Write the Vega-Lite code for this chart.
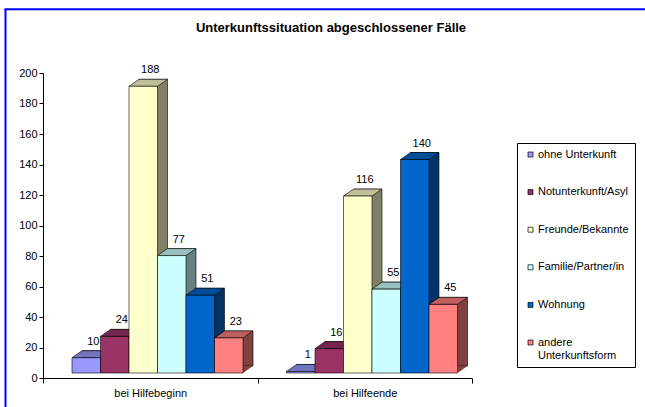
{
  "$schema": "https://vega.github.io/schema/vega-lite/v6.json",
  "width": 429,
  "height": 305,
  "autosize": {"type": "none"},
  "padding": {"left": 43, "top": 73, "right": 173, "bottom": 29},
  "background": "white",
  "config": {"view": {"stroke": null}, "font": "Liberation Sans"},
  "title": {"text": "Unterkunftssituation abgeschlossener Fälle", "fontSize": 13, "fontWeight": "bold", "font": "Liberation Sans", "color": "black", "anchor": "middle", "frame": "group", "offset": 0, "baseline": "alphabetic", "dy": 37, "dx": 73.5},
  "datasets": {
    "bars": [
      {"group": "bei Hilfebeginn", "cat": "ohne Unterkunft", "value": 10},
      {"group": "bei Hilfebeginn", "cat": "Notunterkunft/Asyl", "value": 24},
      {"group": "bei Hilfebeginn", "cat": "Freunde/Bekannte", "value": 188},
      {"group": "bei Hilfebeginn", "cat": "Familie/Partner/in", "value": 77},
      {"group": "bei Hilfebeginn", "cat": "Wohnung", "value": 51},
      {"group": "bei Hilfebeginn", "cat": "andere Unterkunftsform", "value": 23},
      {"group": "bei Hilfeende", "cat": "ohne Unterkunft", "value": 1},
      {"group": "bei Hilfeende", "cat": "Notunterkunft/Asyl", "value": 16},
      {"group": "bei Hilfeende", "cat": "Freunde/Bekannte", "value": 116},
      {"group": "bei Hilfeende", "cat": "Familie/Partner/in", "value": 55},
      {"group": "bei Hilfeende", "cat": "Wohnung", "value": 140},
      {"group": "bei Hilfeende", "cat": "andere Unterkunftsform", "value": 45}
    ],
    "groups": [{"group": "bei Hilfebeginn"}, {"group": "bei Hilfeende"}],
    "one": [{}]
  },
  "encoding": {
    "x": {"field": "group", "type": "nominal", "sort": null,
      "scale": {"type": "band", "paddingInner": 0, "paddingOuter": 0},
      "axis": {"title": null, "labelAngle": 0, "labelFontSize": 11, "labelColor": "black", "labelFont": "Liberation Sans", "domainColor": "black", "tickColor": "black", "tickSize": 5, "tickBand": "extent", "labelPadding": 4, "grid": false}},
    "y": {"field": "value", "type": "quantitative",
      "scale": {"domain": [0, 200], "nice": false, "zero": true},
      "axis": {"title": null, "values": [0, 20, 40, 60, 80, 100, 120, 140, 160, 180, 200], "labelFontSize": 11, "labelColor": "black", "labelFont": "Liberation Sans", "domainColor": "black", "tickColor": "black", "tickSize": 4, "labelPadding": 2, "grid": false}}
  },
  "layer": [
    {
      "data": {"name": "one"},
      "mark": {"type": "rule", "color": "#0000FF", "strokeWidth": 2},
      "encoding": {"x": {"value": -37.5}, "y": {"value": -64}, "y2": {"value": 334}}
    },
    {
      "data": {"name": "one"},
      "mark": {"type": "rule", "color": "#0000FF", "strokeWidth": 2},
      "encoding": {"x": {"value": -38.5}, "x2": {"value": 602}, "y": {"value": -63.7}}
    },
    {
      "data": {"name": "groups"},
      "mark": {"type": "point", "filled": true, "opacity": 1, "color": "black", "strokeWidth": 0,
        "shape": "M-1.0745,0.01L1.0745,0.01L1.3245,-0.18L-0.8245,-0.18Z", "size": 40000},
      "encoding": {"y": {"datum": 0}}
    },
    {
      "data": {"name": "bars"},
      "mark": {"type": "bar", "yOffset": -12, "y2Offset": -12, "stroke": "black", "strokeWidth": 0.6},
      "encoding": {
        "xOffset": {"field": "cat", "type": "nominal", "sort": null,
          "scale": {"type": "band", "domain": ["ohne Unterkunft", "Notunterkunft/Asyl", "Freunde/Bekannte", "Familie/Partner/in", "Wohnung", "andere Unterkunftsform"], "range": [39, 210], "paddingInner": 0, "paddingOuter": 0}},
        "color": {"field": "cat", "type": "nominal", "legend": null,
          "scale": {"domain": ["ohne Unterkunft", "Notunterkunft/Asyl", "Freunde/Bekannte", "Familie/Partner/in", "Wohnung", "andere Unterkunftsform"], "range": ["#4C4C80", "#4C1933", "#808066", "#668080", "#003366", "#804040"]}}
      }
    },
    {
      "data": {"name": "bars"},
      "mark": {"type": "point", "filled": true, "opacity": 1, "strokeWidth": 0, "yOffset": -5,
        "shape": "M0.7125,0L0.7125,-0.35L1.2125,-0.35Z", "size": 1600},
      "encoding": {
        "y": {"datum": 0},
        "xOffset": {"field": "cat", "type": "nominal", "sort": null,
          "scale": {"type": "band", "domain": ["ohne Unterkunft", "Notunterkunft/Asyl", "Freunde/Bekannte", "Familie/Partner/in", "Wohnung", "andere Unterkunftsform"], "range": [29, 200], "paddingInner": 0, "paddingOuter": 0}},
        "color": {"field": "cat", "type": "nominal", "legend": null,
          "scale": {"domain": ["ohne Unterkunft", "Notunterkunft/Asyl", "Freunde/Bekannte", "Familie/Partner/in", "Wohnung", "andere Unterkunftsform"], "range": ["#4C4C80", "#4C1933", "#808066", "#668080", "#003366", "#804040"]}}
      }
    },
    {
      "data": {"name": "bars"},
      "mark": {"type": "point", "filled": true, "opacity": 1, "stroke": "black", "strokeWidth": 0.6, "yOffset": -5,
        "shape": "M-0.7125,0L0.7125,0L1.2125,-0.35L-0.2125,-0.35Z", "size": 1600},
      "encoding": {
        "xOffset": {"field": "cat", "type": "nominal", "sort": null,
          "scale": {"type": "band", "domain": ["ohne Unterkunft", "Notunterkunft/Asyl", "Freunde/Bekannte", "Familie/Partner/in", "Wohnung", "andere Unterkunftsform"], "range": [29, 200], "paddingInner": 0, "paddingOuter": 0}},
        "color": {"field": "cat", "type": "nominal", "legend": null,
          "scale": {"domain": ["ohne Unterkunft", "Notunterkunft/Asyl", "Freunde/Bekannte", "Familie/Partner/in", "Wohnung", "andere Unterkunftsform"], "range": ["#7373BF", "#73264D", "#BFBF99", "#99BFBF", "#004D99", "#BF6060"]}}
      }
    },
    {
      "data": {"name": "bars"},
      "mark": {"type": "bar", "yOffset": -5, "y2Offset": -5, "stroke": "black", "strokeWidth": 0.6},
      "encoding": {
        "xOffset": {"field": "cat", "type": "nominal", "sort": null,
          "scale": {"type": "band", "domain": ["ohne Unterkunft", "Notunterkunft/Asyl", "Freunde/Bekannte", "Familie/Partner/in", "Wohnung", "andere Unterkunftsform"], "range": [29, 200], "paddingInner": 0, "paddingOuter": 0}},
        "color": {"field": "cat", "type": "nominal",
          "scale": {"domain": ["ohne Unterkunft", "Notunterkunft/Asyl", "Freunde/Bekannte", "Familie/Partner/in", "Wohnung", "andere Unterkunftsform"], "range": ["#9999FF", "#993366", "#FFFFCC", "#CCFFFF", "#0066CC", "#FF8080"]},
          "legend": {"title": null, "orient": "none", "legendX": 474, "legendY": 70, "padding": 6, "strokeColor": "black", "fillColor": "white", "cornerRadius": 0,
            "symbolType": "square", "symbolSize": 25, "symbolStrokeColor": "black", "symbolStrokeWidth": 0.7,
            "labelFontSize": 11, "labelFont": "Liberation Sans", "labelColor": "black", "rowPadding": 25.6, "labelOffset": 2, "symbolOffset": 2,
            "labelExpr": "datum.label == 'andere Unterkunftsform' ? ['andere', 'Unterkunftsform'] : datum.label"}}
      }
    },
    {
      "data": {"name": "bars"},
      "mark": {"type": "text", "dx": 7, "dy": -18, "baseline": "alphabetic", "fontSize": 11, "font": "Liberation Sans", "color": "black"},
      "encoding": {
        "xOffset": {"field": "cat", "type": "nominal", "sort": null,
          "scale": {"type": "band", "domain": ["ohne Unterkunft", "Notunterkunft/Asyl", "Freunde/Bekannte", "Familie/Partner/in", "Wohnung", "andere Unterkunftsform"], "range": [29, 200], "paddingInner": 0, "paddingOuter": 0}},
        "text": {"field": "value", "type": "quantitative"}
      }
    }
  ],
  "resolve": {"scale": {"color": "independent", "xOffset": "independent"}}
}
